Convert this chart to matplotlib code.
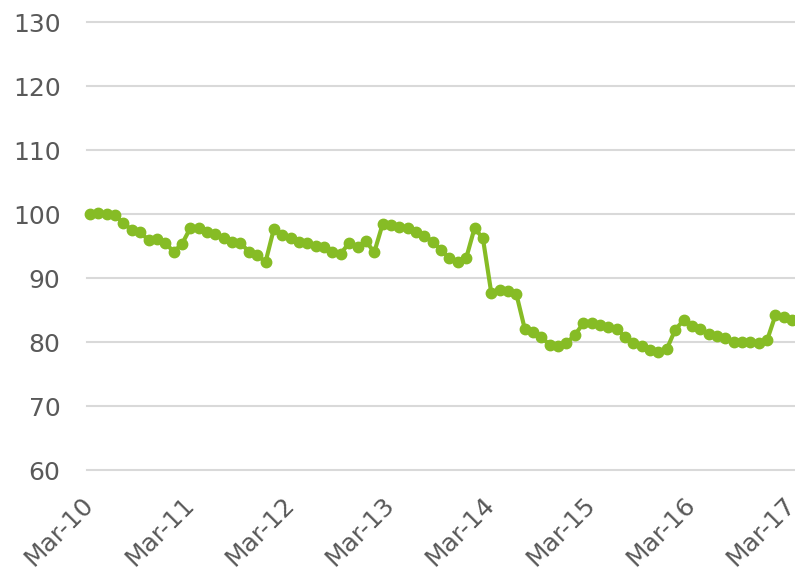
import matplotlib
matplotlib.use("Agg")
import matplotlib.pyplot as plt
import numpy as np

# monthly index values, Mar-10 .. Mar-17
values = [
    100.0, 100.2, 100.0, 99.8, 98.6, 97.5, 97.2, 95.9, 96.1, 95.5, 94.1, 95.3,
    97.8, 97.8, 97.2, 96.8, 96.3, 95.7, 95.5, 94.1, 93.6, 92.5, 97.7, 96.7,
    96.2, 95.7, 95.5, 95.0, 94.9, 94.0, 93.8, 95.5, 94.9, 95.8, 94.0, 98.4,
    98.3, 98.0, 97.8, 97.2, 96.6, 95.7, 94.4, 93.1, 92.5, 93.1, 97.8, 96.2,
    87.7, 88.1, 87.9, 87.5, 82.1, 81.6, 80.8, 79.5, 79.3, 79.8, 81.1, 82.9,
    83.0, 82.7, 82.3, 82.0, 80.8, 79.8, 79.3, 78.75, 78.5, 78.9, 81.9, 83.4,
    82.5, 82.1, 81.25, 80.9, 80.6, 80.0, 80.0, 80.0, 79.9, 80.3, 84.2, 83.9,
    83.4,
]
tick_labels = ["Mar-10", "Mar-11", "Mar-12", "Mar-13", "Mar-14", "Mar-15", "Mar-16", "Mar-17"]
y_ticks = [60, 70, 80, 90, 100, 110, 120, 130]

plt.rcParams["font.family"] = ["DejaVu Sans"]

W, H = 795, 574
fig = plt.figure(figsize=(W / 100, H / 100), dpi=100)
# plot area runs past the right edge of the picture
ax = fig.add_axes([87 / W, 1 - 470 / H, (805 - 87) / W, (470 - 22) / H])

months = np.arange(len(values))
ax.plot(months, values, "-o", color="#86bc25", lw=3, ms=7.5, clip_on=False, zorder=3)

step = (792.2 - 90) / 84
ax.set_xlim(-3 / step, (805 - 90) / step)
ax.set_ylim(60, 130)
ax.set_yticks(y_ticks)
ax.set_xticks(np.arange(0, len(values), 12))
ax.set_xticklabels(tick_labels, rotation=45, ha="right", va="center",
                   rotation_mode="anchor")

ax.grid(axis="y", color="#d9d9d9", lw=1.5)
for gl in ax.get_ygridlines():
    gl.set_clip_on(False)
ax.set_axisbelow(True)
for s in ax.spines.values():
    s.set_visible(False)
ax.tick_params(axis="y", length=0, pad=19, labelsize=18, labelcolor="#595959")
ax.tick_params(axis="x", length=0, pad=22, labelsize=18, labelcolor="#595959")

fig.savefig("out.png", dpi=100)
